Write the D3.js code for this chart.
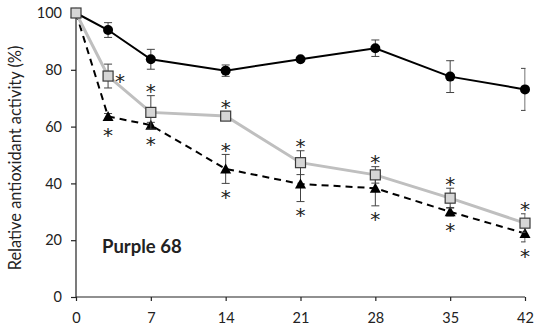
<!DOCTYPE html>
<html>
<head>
<meta charset="utf-8">
<script src="https://cdn.jsdelivr.net/npm/d3@7"></script>
<style>
  html, body { margin: 0; padding: 0; background: #fff; }
  svg { display: block; }
  text { font-family: Lato, "Open Sans", sans-serif; fill: #222; }
</style>
</head>
<body>
<svg id="chart" width="536" height="331"></svg>
<script>
// Storage time (days)
const days = [0, 3, 7, 14, 21, 28, 35, 42];
const xTicks = [0, 7, 14, 21, 28, 35, 42];
const yTicks = [0, 20, 40, 60, 80, 100];

// Relative antioxidant activity (%) and standard deviations
const controlValues   = [100, 94.0, 83.7, 79.7, 83.7, 87.6, 77.6, 73.1];
const controlErrors   = [0,   2.6,  3.5,  2.0,  0.5,  2.9,  5.6,  7.4];
const squareValues    = [100, 77.8, 65.0, 63.7, 47.3, 43.0, 34.8, 26.0];
const squareErrors    = [0,   4.2,  5.9,  0.8,  4.2,  2.9,  3.5,  3.3];
const triangleValues  = [100, 63.6, 60.5, 45.1, 39.8, 38.3, 30.0, 22.4];
const triangleErrors  = [0,   1.0,  1.0,  5.1,  6.2,  6.2,  1.5,  3.0];

// Significance marks: series, day, side
const sigMarks = [
  ["square", 3, "right"], ["square", 7, "above"], ["square", 14, "above"],
  ["square", 21, "above"], ["square", 28, "above"], ["square", 35, "above"],
  ["square", 42, "above"],
  ["triangle", 3, "below"], ["triangle", 7, "below"], ["triangle", 14, "above"],
  ["triangle", 14, "below"], ["triangle", 21, "below"], ["triangle", 28, "below"],
  ["triangle", 35, "below"], ["triangle", 42, "below"]
];

const panelLabel = "Purple 68";
const yTitle = "Relative antioxidant activity (%)";

const svg = d3.select("#chart");
const x = d3.scaleLinear().domain([0, 42]).range([76, 525]);
const y = d3.scaleLinear().domain([0, 100]).range([297, 13]);

// Axes
const xAxis = svg.append("g").attr("transform", `translate(0,${y(0)})`)
  .call(d3.axisBottom(x).tickValues(xTicks).tickSize(4).tickPadding(12));
const yAxis = svg.append("g").attr("transform", `translate(${x(0)},0)`)
  .call(d3.axisLeft(y).tickValues(yTicks).tickSize(5).tickPadding(9));
[xAxis, yAxis].forEach(g => {
  g.select(".domain").attr("stroke", "#222").attr("stroke-width", 1.2);
  g.selectAll(".tick line").attr("stroke", "#222").attr("stroke-width", 1.2);
  g.selectAll(".tick text").attr("font-family", "Lato, sans-serif")
    .attr("font-size", 14.5).attr("fill", "#222");
});
xAxis.select(".domain").attr("d", `M${x(0)},0H${x(42)}`);
yAxis.select(".domain").attr("d", `M0,${y(0)}V${y(100)}`);

svg.append("text")
  .attr("transform", `translate(21,${(y(0) + y(100)) / 2 + 3}) rotate(-90)`)
  .attr("text-anchor", "middle").attr("font-size", 16.4)
  .text(yTitle);

svg.append("text")
  .attr("x", 102).attr("y", 253)
  .attr("font-size", 18.5).attr("font-weight", "bold")
  .text(panelLabel);

// Error bars are clipped to the plot area
svg.append("clipPath").attr("id", "plotClip")
  .append("rect").attr("x", x(0) - 10).attr("y", 0)
  .attr("width", x(42) - x(0) + 10.5).attr("height", y(0));

const seriesList = [
  { key: "control", values: controlValues, errors: controlErrors,
    stroke: "#000", width: 2, dash: null, marker: "circle" },
  { key: "triangle", values: triangleValues, errors: triangleErrors,
    stroke: "#000", width: 2, dash: "7,5", marker: "triangle" },
  { key: "square", values: squareValues, errors: squareErrors,
    stroke: "#bfbfbf", width: 3, dash: null, marker: "square" }
];

const line = d3.line().x(d => x(d.day)).y(d => y(d.v));

seriesList.forEach(s => {
  const pts = days.map((d, i) => ({ day: d, v: s.values[i], e: s.errors[i] }));
  const g = svg.append("g");

  // Error bars
  const eb = g.append("g").attr("clip-path", "url(#plotClip)")
    .attr("stroke", "#444").attr("stroke-width", 1);
  pts.filter(p => p.e > 0).forEach(p => {
    const cx = x(p.day), t = y(p.v + p.e), b = y(p.v - p.e);
    eb.append("line").attr("x1", cx).attr("x2", cx).attr("y1", t).attr("y2", b);
    eb.append("line").attr("x1", cx - 4).attr("x2", cx + 4).attr("y1", t).attr("y2", t);
    eb.append("line").attr("x1", cx - 4).attr("x2", cx + 4).attr("y1", b).attr("y2", b);
  });

  g.append("path").datum(pts).attr("d", line)
    .attr("fill", "none").attr("stroke", s.stroke).attr("stroke-width", s.width)
    .attr("stroke-dasharray", s.dash);

  const mk = g.append("g");
  pts.forEach(p => {
    const cx = x(p.day), cy = y(p.v);
    if (s.marker === "circle") {
      mk.append("circle").attr("cx", cx).attr("cy", cy).attr("r", 5).attr("fill", "#000");
    } else if (s.marker === "square") {
      mk.append("rect").attr("x", cx - 5).attr("y", cy - 5).attr("width", 10).attr("height", 10)
        .attr("fill", "#d6d6d6").attr("stroke", "#3a3a3a").attr("stroke-width", 1.2);
    } else {
      mk.append("path").attr("transform", `translate(${cx},${cy})`)
        .attr("d", "M0,-5.5L5.5,4.5L-5.5,4.5Z").attr("fill", "#000");
    }
  });
});

// Significance asterisks
const lookup = { square: seriesList[2], triangle: seriesList[1] };
const astSize = 20;
sigMarks.forEach(([key, day, side]) => {
  const s = lookup[key];
  const i = days.indexOf(day);
  const v = s.values[i], e = s.errors[i];
  let cx = x(day), cy;
  if (side === "right") { cx += 12; cy = y(v); }
  else if (side === "above") { cy = Math.min(y(v + e), y(v) - 5) - 9; }
  else { cy = Math.max(y(v - e), y(v) + 5) + 9; }
  svg.append("text").attr("x", cx).attr("y", cy + astSize * 0.58)
    .attr("text-anchor", "middle").attr("font-size", astSize)
    .attr("font-family", "'DejaVu Sans', sans-serif")
    .style("font-family", "'DejaVu Sans', sans-serif")
    .attr("fill", "#333")
    .text("*");
});
</script>
</body>
</html>
